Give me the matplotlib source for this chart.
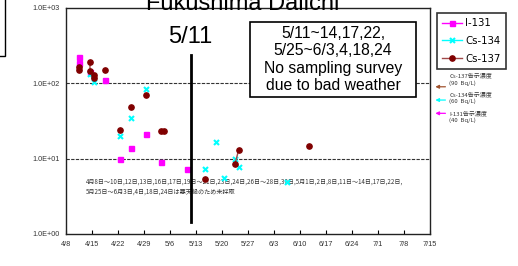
import numpy as np
import pandas as pd
import matplotlib
matplotlib.use('Agg')
import matplotlib.pyplot as plt
import matplotlib.dates as mdates
import matplotlib.transforms as mtransforms
from matplotlib.patches import Rectangle

plt.rcParams['font.family'] = ['Liberation Sans', 'Noto Sans CJK JP', 'DejaVu Sans']

#=== Data (Bq/L) ===#
i131_dates = ['4/11', '4/11', '4/14', '4/18', '4/22', '4/25', '4/29', '5/3', '5/10']
i131_vals = [221, 188, 143, 111, 9.9, 14, 21, 9.0, 7.3]

cs134_dates = ['4/14', '4/15', '4/22', '4/25', '4/29', '5/15', '5/18', '5/20', '5/23', '5/24', '6/6']
cs134_vals = [133, 105, 20, 35, 83, 7.2, 16.8, 5.6, 9.9, 7.7, 4.9]

cs137_dates = ['4/11', '4/11', '4/14', '4/14', '4/15', '4/15', '4/18', '4/22', '4/25', '4/29',
               '5/3', '5/4', '5/15', '5/23', '5/24', '6/12']
cs137_vals = [163, 150, 190, 146, 129, 117, 150, 24, 48, 71, 23, 23, 5.3, 8.4, 12.9, 14.9]

limit_names = ['Cs-137告示濃度\n(90  Bq/L)', 'Cs-134告示濃度\n(60  Bq/L)', 'I-131告示濃度\n(40  Bq/L)']
limit_vals = [90, 60, 40]
limit_colors = ['#A0522D', '#00FFFF', '#FF00FF']

tick_dates = ['4/8', '4/15', '4/22', '4/29', '5/6', '5/13', '5/20', '5/27',
              '6/3', '6/10', '6/17', '6/24', '7/1', '7/8', '7/15']

box_text = '5/11~14,17,22,\n5/25~6/3,4,18,24\nNo sampling survey\ndue to bad weather'
jp_note = ('4月8日～10日,12日,13日,16日,17日,19日～21日,23日,24日,26日～28日,30日,5月1日,2日,8日,11日～14日,17日,22日,\n'
           '5月25日～6月3日,4日,18日,24日は悪天候のため未採取')


def to_date(s):
    return pd.Timestamp('2011/' + s)


def series_xy(dates, vals):
    # break the line where days were skipped (like Excel blanks)
    d = [to_date(s) + pd.Timedelta(hours=11) for s in dates]
    xs, ys = [], []
    for k in range(len(d)):
        if k > 0 and (d[k] - d[k-1]).days > 1:
            xs.append(d[k-1] + pd.Timedelta(hours=12))
            ys.append(np.nan)
        xs.append(d[k])
        ys.append(vals[k])
    return mdates.date2num(xs), np.array(ys, dtype=float)


W, H = 518, 266
fig = plt.figure(figsize=(W/100, H/100), dpi=100)
ax = fig.add_axes([66/W, 1-234/H, 364/W, 226/H])

x, y = series_xy(i131_dates, i131_vals)
ax.plot(x, y, color='#FF00FF', lw=1, marker='s', ms=3.6, mec='#FF00FF', label='I-131', zorder=4)
x, y = series_xy(cs134_dates, cs134_vals)
ax.plot(x, y, color='#00FFFF', lw=1, marker='x', ms=3.6, mew=1.5, label='Cs-134', zorder=4)
x, y = series_xy(cs137_dates, cs137_vals)
ax.plot(x, y, color='#A04848', lw=1, marker='o', ms=3.8, mfc='#800000', mec='#800000', label='Cs-137', zorder=5)

#=== Reference lines ===#
for lv in [100, 10]:
    ax.axhline(lv, color='#333333', lw=0.8, ls=(0, (3, 1.2)), zorder=2)

d511 = mdates.date2num(to_date('5/11') + pd.Timedelta(hours=13))
ax.axvline(d511, ymin=0.053, ymax=0.792, color='black', lw=2, zorder=6)
ax.text(d511, 1 - 28.7/226, '5/11', transform=mtransforms.blended_transform_factory(ax.transData, ax.transAxes),
        ha='center', va='center', fontsize=17)

#=== Axes ===#
ax.set_yscale('log')
ax.set_ylim(1, 1000)
ax.set_yticks([1, 10, 100, 1000])
ax.set_yticklabels(['1.0E+00', '1.0E+01', '1.0E+02', '1.0E+03'])
ax.yaxis.set_minor_locator(matplotlib.ticker.NullLocator())
ax.tick_params(axis='y', length=0, pad=4.5, labelsize=5.2, labelcolor='#333333')

ticks = [mdates.date2num(to_date(s)) for s in tick_dates]
ax.set_xlim(ticks[0], ticks[-1])
ax.set_xticks(ticks)
ax.set_xticklabels(tick_dates)
ax.tick_params(axis='x', direction='in', length=3, pad=5, labelsize=5.3, labelcolor='#333333')
for sp in ax.spines.values():
    sp.set_linewidth(1.0)
    sp.set_color('#222222')

#=== Limit arrows on the right ===#
trans = mtransforms.blended_transform_factory(ax.transAxes, ax.transData)
text_shift = [-7.5, -2.0, 3.5]   # label block centre relative to arrow, in pixels (down is +)
for name, lv, c, sh in zip(limit_names, limit_vals, limit_colors, text_shift):
    ax.annotate('', xy=(1.007, lv), xycoords=trans, xytext=(1.05, lv), textcoords=trans,
                arrowprops=dict(arrowstyle='-|>', color=c, lw=0.9, mutation_scale=5), annotation_clip=False)
    ax.annotate(name, xy=(1.053, lv), xycoords=trans, xytext=(0, -sh * 0.72), textcoords='offset points',
                fontsize=4.3, va='center', ha='left', linespacing=1.3, color='#333333',
                family=['Noto Sans CJK JP', 'DejaVu Sans'], annotation_clip=False)

#=== Japanese note ===#
ax.text(20/364, 1 - 178.8/226, jp_note, transform=ax.transAxes, fontsize=4.4, va='center', ha='left',
        linespacing=1.3, color='#333333', family=['Noto Sans CJK JP', 'DejaVu Sans'], zorder=3)

#=== Text box ===#
fig.patches.append(Rectangle((250/W, 1-97.3/H), 165.7/W, 75.6/H, transform=fig.transFigure,
                             facecolor='white', edgecolor='black', lw=1.2, zorder=3))
fig.text(333/W, 1-59.5/H, box_text, ha='center', va='center', fontsize=11.3, linespacing=1.2, zorder=4)

#=== Legend ===#
leg = fig.legend(loc='upper left', bbox_to_anchor=(431.7/W, 1-8.3/H), frameon=True,
                 fancybox=False, edgecolor='black', handlelength=2.0, labelspacing=0.75,
                 borderpad=0.5, handletextpad=0.3, prop={'family': 'DejaVu Sans', 'size': 7.3})
leg.get_frame().set_linewidth(1.2)

#=== Title (cut off at top) and neighbouring legend edge ===#
fig.text(243/W, 1-10/H, 'Fukushima Daiichi', ha='center', va='baseline', fontsize=17)
fig.patches.append(Rectangle((-10/W, 1-56/H), 15.3/W, 60/H, transform=fig.transFigure,
                             facecolor='white', edgecolor='black', lw=1.0))

fig.savefig('out.png', dpi=100)
